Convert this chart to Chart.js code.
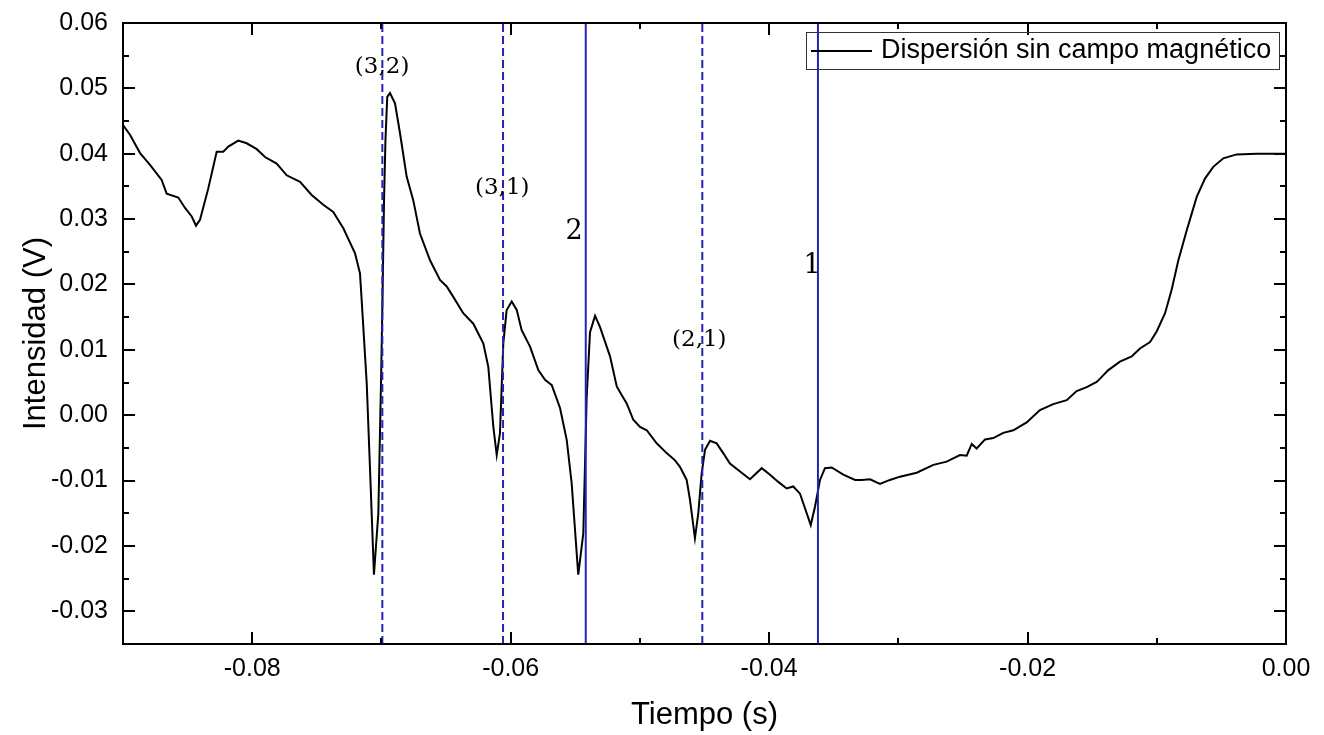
<!DOCTYPE html>
<html>
<head>
<meta charset="utf-8">
<script src="https://cdn.jsdelivr.net/npm/chart.js@4.4.0/dist/chart.umd.min.js"></script>
<style>
html, body { margin: 0; padding: 0; background: #fff; }
</style>
</head>
<body>
<canvas id="cv_chart" width="1324" height="735"></canvas>
<script>
// curve: time (s) / intensity (V)
const tiempo = [-0.0900, -0.08946, -0.08868, -0.08791, -0.08701, -0.08662, -0.08572, -0.08520, -0.08468, -0.08435,
  -0.08404, -0.08340, -0.08275, -0.08224, -0.08185, -0.08108, -0.08043, -0.07965, -0.07901, -0.07811,
  -0.07733, -0.07630, -0.07540, -0.07450, -0.07373, -0.07295, -0.07205, -0.07166, -0.07153, -0.07114,
  -0.07089, -0.07058, -0.07024, -0.07003, -0.06992, -0.06980, -0.06969, -0.06955, -0.06934, -0.06895,
  -0.06856, -0.06805, -0.06754, -0.06702, -0.06624, -0.06547, -0.06495, -0.06444, -0.06367, -0.06289,
  -0.06212, -0.06173, -0.06134, -0.06108, -0.06083, -0.06057, -0.06031, -0.05992, -0.05953, -0.05915,
  -0.05850, -0.05786, -0.05734, -0.05682, -0.05618, -0.05566, -0.05528, -0.05477, -0.05438, -0.05412,
  -0.05386, -0.05347, -0.05309, -0.05231, -0.05179, -0.05141, -0.05102, -0.05051, -0.04999, -0.04947,
  -0.04870, -0.04793, -0.04728, -0.04690, -0.04638, -0.04612, -0.04574, -0.04548, -0.04522, -0.04496,
  -0.04457, -0.04406, -0.04355, -0.04303, -0.04225, -0.04148, -0.04057, -0.03993, -0.03929, -0.03864,
  -0.03813, -0.03761, -0.03709, -0.03678, -0.03645, -0.03606, -0.03568, -0.03516, -0.03426, -0.03335,
  -0.03284, -0.03219, -0.03142, -0.03065, -0.02987, -0.02858, -0.02729, -0.02626, -0.02523, -0.02471,
  -0.02432, -0.02394, -0.02329, -0.02265, -0.02188, -0.02110, -0.02007, -0.01904, -0.01801, -0.01697,
  -0.01620, -0.01542, -0.01465, -0.01439, -0.01375, -0.01285, -0.01194, -0.01130, -0.01052, -0.01001,
  -0.00936, -0.00885, -0.00833, -0.00768, -0.00691, -0.00627, -0.00563, -0.00485, -0.00382, -0.00227,
  0.0000];
const intensidad = [0.0444, 0.0429, 0.0401, 0.0383, 0.0360, 0.0339, 0.0333, 0.0317, 0.0304, 0.0290,
  0.0299, 0.0347, 0.0403, 0.0403, 0.0411, 0.0420, 0.0416, 0.0407, 0.0395, 0.0385,
  0.0367, 0.0357, 0.0337, 0.0322, 0.0311, 0.0286, 0.0248, 0.0217, 0.0176, 0.0049,
  -0.0079, -0.0244, -0.0150, 0.0054, 0.0176, 0.0329, 0.0421, 0.0487, 0.0493, 0.0477,
  0.0431, 0.0365, 0.0329, 0.0278, 0.0237, 0.0207, 0.0197, 0.0181, 0.0156, 0.0140,
  0.0110, 0.0074, -0.0018, -0.0061, -0.0028, 0.0110, 0.0161, 0.0174, 0.0161, 0.0130,
  0.0105, 0.0069, 0.0054, 0.0046, 0.0011, -0.0038, -0.0104, -0.0244, -0.0181, 0.0026,
  0.0127, 0.0152, 0.0135, 0.0090, 0.0044, 0.0031, 0.0018, -0.0007, -0.0018, -0.0023,
  -0.0043, -0.0058, -0.0069, -0.0079, -0.0099, -0.0130, -0.0188, -0.0150, -0.0089, -0.0053,
  -0.0039, -0.0043, -0.0058, -0.0074, -0.0086, -0.0098, -0.0081, -0.0091, -0.0102, -0.0112,
  -0.0109, -0.0120, -0.0150, -0.0168, -0.0140, -0.0099, -0.0081, -0.0080, -0.0091, -0.0099,
  -0.0099, -0.0098, -0.0105, -0.0099, -0.0094, -0.0088, -0.0076, -0.0071, -0.0061, -0.0062,
  -0.0044, -0.0051, -0.0037, -0.0035, -0.0027, -0.0023, -0.0011, 0.0008, 0.0017, 0.0023,
  0.0037, 0.0043, 0.0051, 0.0056, 0.0069, 0.0082, 0.0090, 0.0102, 0.0112, 0.0128,
  0.0156, 0.0192, 0.0237, 0.0283, 0.0334, 0.0362, 0.0380, 0.0393, 0.0399, 0.0400,
  0.0400];

// mode lines
const lineasX = [-0.06993, -0.06059, -0.05419, -0.04517, -0.03622];
const lineasDash = [true, true, false, true, false];
const etiquetas = ['(3,2)', '(3,1)', '2', '(2,1)', '1'];
const etiquetaX = [-0.06995, -0.06065, -0.05510, -0.04540, -0.03668];
const etiquetaY = [0.0533, 0.0347, 0.0280, 0.0115, 0.0228];

// axes
const xMin = -0.09, xMax = 0.0;
const yMin = -0.035, yMax = 0.06;
const xTicks = [-0.08, -0.06, -0.04, -0.02, 0.00];
const xMinor = [-0.07, -0.05, -0.03, -0.01];
const yTicks = [-0.03, -0.02, -0.01, 0.00, 0.01, 0.02, 0.03, 0.04, 0.05, 0.06];
const yMinor = [-0.025, -0.015, -0.005, 0.005, 0.015, 0.025, 0.035, 0.045, 0.055];
const legendText = 'Dispersión sin campo magnético';

const blue = '#2323b4';
const sans = '"Liberation Sans", Arial, sans-serif';

const datasets = [];
lineasX.forEach((v, i) => {
    datasets.push({
        data: [{x: v, y: yMin}, {x: v, y: yMax}],
        showLine: true,
        borderColor: blue,
        borderWidth: 2,
        borderDash: lineasDash[i] ? [8, 4] : [],
        pointRadius: 0,
        order: 1
    });
});
datasets.push({
    data: tiempo.map((t, i) => ({x: t, y: intensidad[i]})),
    showLine: true,
    borderColor: '#000',
    borderWidth: 2,
    pointRadius: 0,
    tension: 0,
    order: 2
});

const framePlugin = {
    id: 'frame',
    afterDraw(chart) {
        const {ctx, chartArea: a, scales: {x, y}} = chart;
        ctx.save();
        ctx.strokeStyle = '#000';
        ctx.lineWidth = 2;
        ctx.lineCap = 'butt';
        ctx.strokeRect(a.left, a.top, a.right - a.left, a.bottom - a.top);
        ctx.beginPath();
        const xt = (v, len) => {
            const px = Math.round(x.getPixelForValue(v));
            ctx.moveTo(px, a.bottom); ctx.lineTo(px, a.bottom - len);
            ctx.moveTo(px, a.top); ctx.lineTo(px, a.top + len);
        };
        const yt = (v, len) => {
            const py = Math.round(y.getPixelForValue(v));
            ctx.moveTo(a.left, py); ctx.lineTo(a.left + len, py);
            ctx.moveTo(a.right, py); ctx.lineTo(a.right - len, py);
        };
        xTicks.forEach(v => xt(v, 12));
        xMinor.forEach(v => xt(v, 6));
        yTicks.forEach(v => yt(v, 12));
        yMinor.forEach(v => yt(v, 6));
        ctx.stroke();

        // mode labels (single digits are set a bit larger)
        ctx.fillStyle = '#000';
        ctx.textAlign = 'center';
        ctx.textBaseline = 'middle';
        etiquetas.forEach((txt, i) => {
            ctx.font = (txt.length === 1 ? '27px' : '23px') + ' "DejaVu Serif", serif';
            ctx.fillText(txt, x.getPixelForValue(etiquetaX[i]), y.getPixelForValue(etiquetaY[i]));
        });

        // legend
        const bx = a.right - 480, by = a.top + 9;
        ctx.lineWidth = 1;
        ctx.strokeStyle = '#333';
        ctx.strokeRect(bx + 0.5, by + 0.5, 473, 37);
        ctx.lineWidth = 2;
        ctx.strokeStyle = '#000';
        ctx.beginPath();
        ctx.moveTo(bx + 5, by + 19);
        ctx.lineTo(bx + 66, by + 19);
        ctx.stroke();
        ctx.font = '27px ' + sans;
        ctx.textAlign = 'left';
        ctx.fillText(legendText, bx + 75, by + 19);
        ctx.restore();
    }
};

const chart = new Chart(document.getElementById('cv_chart').getContext('2d'), {
    type: 'scatter',
    data: {datasets: datasets},
    options: {
        responsive: false,
        animation: false,
        layout: {padding: {left: 0, top: 23, right: 38, bottom: 0}},
        plugins: {legend: {display: false}, tooltip: {enabled: false}},
        scales: {
            x: {
                type: 'linear',
                min: xMin,
                max: xMax,
                afterFit: (s) => { s.height = 91; s.paddingLeft = 0; s.paddingRight = 0; },
                afterBuildTicks: (s) => { s.ticks = xTicks.map(v => ({value: v})); },
                grid: {display: false, drawTicks: false},
                border: {display: false},
                ticks: {
                    color: '#000',
                    padding: 10,
                    maxRotation: 0,
                    font: {size: 25, family: sans},
                    callback: (v) => Number(v).toFixed(2)
                },
                title: {
                    display: true,
                    text: 'Tiempo (s)',
                    color: '#000',
                    font: {size: 31, family: sans},
                    padding: {top: 0, bottom: 1}
                }
            },
            y: {
                type: 'linear',
                min: yMin,
                max: yMax,
                afterFit: (s) => { s.width = 123; s.paddingTop = 0; s.paddingBottom = 0; },
                afterBuildTicks: (s) => { s.ticks = yTicks.map(v => ({value: v})); },
                grid: {display: false, drawTicks: false},
                border: {display: false},
                ticks: {
                    color: '#000',
                    padding: 15,
                    font: {size: 25, family: sans},
                    callback: (v) => Number(v).toFixed(2)
                },
                title: {
                    display: true,
                    text: 'Intensidad (V)',
                    color: '#000',
                    font: {size: 31, family: sans},
                    padding: {top: 18, bottom: 0}
                }
            }
        }
    },
    plugins: [framePlugin]
});
</script>
</body>
</html>
